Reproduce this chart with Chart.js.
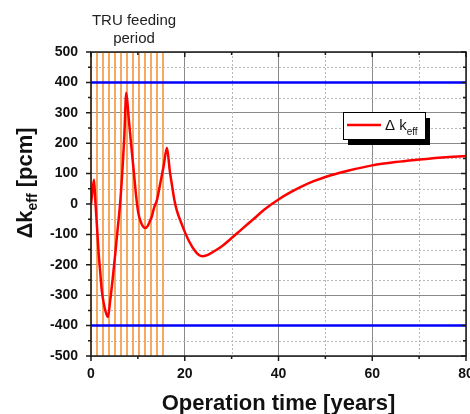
<!DOCTYPE html>
<html>
<head>
<meta charset="utf-8">
<script src="https://cdn.jsdelivr.net/npm/chart.js@4/dist/chart.umd.min.js"></script>
<style>
  body { margin: 0; background: #fff; }
  canvas { display: block; }
</style>
</head>
<body>
<canvas id="chart" width="470" height="414"></canvas>
<script>
// reactivity swing over time
const years = [0, 0.3, 0.64, 0.92, 1.3, 1.63, 2.0, 2.3, 2.7, 3.05, 3.6, 4.1, 4.6, 5.2, 5.7, 6.2, 6.7, 7.1, 7.53,
  8.0, 8.6, 9.2, 9.6, 10.1, 10.6, 11.1, 11.6, 12.1, 12.6, 13.0, 13.4, 14.1, 14.8, 15.5, 16.2,
  16.8, 17.4, 17.8, 18.3, 19.2, 20.1, 21.0, 22.2, 23.0, 23.8, 24.8, 26, 28, 30, 32, 35, 37, 40,
  42.5, 45, 47.5, 50, 55, 60, 65, 70, 75, 80];
const deltaK = [0, 40, 80, 12, -80, -162, -230, -284, -325, -350, -372, -317, -250, -160, -80, 0, 110, 220, 366,
  290, 190, 95, 30, -30, -58, -74, -79, -72, -55, -40, -15, 15, 70, 125, 185,
  110, 50, 12, -21, -60, -95, -125, -155, -168, -172, -168, -158, -138, -112, -85, -45, -18, 15,
  38, 58, 75, 89, 110, 127, 138, 146, 153, 158];
const limits = [400, -400];
const feedingTimes = [0, 1.28, 2.56, 3.84, 5.12, 6.4, 7.68, 8.96, 10.24, 11.52, 12.8, 14.08, 15.36];
const xTicks = [0, 20, 40, 60, 80];
const yTicks = [-500, -400, -300, -200, -100, 0, 100, 200, 300, 400, 500];

const FONT = "'Liberation Sans', Arial, sans-serif";

const datasets = [{
  data: years.map((x, i) => ({ x: x, y: deltaK[i] })),
  borderColor: '#ff0000',
  borderWidth: 2.5,
  pointRadius: 0,
  cubicInterpolationMode: 'monotone'
}];
limits.forEach(v => datasets.push({
  data: [{ x: 0, y: v }, { x: 80, y: v }],
  borderColor: '#0000ff',
  borderWidth: 2.5,
  pointRadius: 0
}));
feedingTimes.forEach(t => datasets.push({
  data: [{ x: t, y: -500 }, { x: t, y: 500 }],
  borderColor: 'rgb(247,160,80)',
  borderWidth: 1.8,
  pointRadius: 0,
  clip: 3
}));

// dotted minor grid, frame with ticks, titles, legend, annotation
const decor = {
  id: 'decor',
  beforeDatasetsDraw(chart) {
    const { ctx, chartArea: a, scales: { x, y } } = chart;
    ctx.save();
    ctx.strokeStyle = '#b8b8b8';
    ctx.lineWidth = 1;
    ctx.setLineDash([2, 2]);
    for (let v = 10; v < 80; v += 20) {
      const px = Math.round(x.getPixelForValue(v)) + 0.5;
      ctx.beginPath(); ctx.moveTo(px, a.top); ctx.lineTo(px, a.bottom); ctx.stroke();
    }
    for (let v = -450; v < 500; v += 100) {
      const py = Math.round(y.getPixelForValue(v)) + 0.5;
      ctx.beginPath(); ctx.moveTo(a.left, py); ctx.lineTo(a.right, py); ctx.stroke();
    }
    ctx.restore();
  },
  afterDatasetsDraw(chart) {
    const { ctx, chartArea: a, scales: { x, y } } = chart;
    ctx.save();
    // frame
    ctx.strokeStyle = '#1a1a1a';
    ctx.lineWidth = 1.5;
    ctx.strokeRect(a.left, a.top, a.right - a.left, a.bottom - a.top);
    ctx.beginPath();
    for (let v = 0; v <= 80; v += 10) {
      const px = x.getPixelForValue(v);
      const len = v % 20 === 0 ? 5 : 3;
      ctx.moveTo(px, a.bottom); ctx.lineTo(px, a.bottom + len);
      ctx.moveTo(px, a.top); ctx.lineTo(px, a.top + len);
    }
    for (let v = -500; v <= 500; v += 50) {
      const py = y.getPixelForValue(v);
      const len = v % 100 === 0 ? 5 : 3;
      ctx.moveTo(a.left, py); ctx.lineTo(a.left - len, py);
      ctx.moveTo(a.right, py); ctx.lineTo(a.right - len, py);
    }
    ctx.stroke();

    // x title
    ctx.fillStyle = '#111';
    ctx.font = 'bold 22px ' + FONT;
    ctx.textAlign = 'center';
    ctx.textBaseline = 'alphabetic';
    ctx.fillText('Operation time [years]', (a.left + a.right) / 2, 410);

    // y title with subscript
    ctx.save();
    ctx.translate(32, 183);
    ctx.rotate(-Math.PI / 2);
    const big = 'bold 22px ' + FONT, small = 'bold 14px ' + FONT;
    ctx.font = big; const w1 = ctx.measureText('\u0394k').width;
    ctx.font = small; const w2 = ctx.measureText('eff').width;
    ctx.font = big; const w3 = ctx.measureText(' [pcm]').width;
    let sx = -(w1 + w2 + w3) / 2;
    ctx.textAlign = 'left';
    ctx.font = big; ctx.fillText('\u0394k', sx, 0); sx += w1;
    ctx.font = small; ctx.fillText('eff', sx, 5); sx += w2;
    ctx.font = big; ctx.fillText(' [pcm]', sx, 0);
    ctx.restore();

    // annotation
    ctx.font = '15px ' + FONT;
    ctx.fillStyle = '#222';
    ctx.textAlign = 'center';
    ctx.fillText('TRU feeding', 134, 25);
    ctx.fillText('period', 134, 43);

    // legend box with shadow
    ctx.fillStyle = '#000';
    ctx.fillRect(348, 118, 82, 27);
    ctx.fillStyle = '#fff';
    ctx.fillRect(343.5, 112.5, 82, 27);
    ctx.strokeStyle = '#000';
    ctx.lineWidth = 1;
    ctx.strokeRect(343.5, 112.5, 82, 27);
    ctx.strokeStyle = '#ff0000';
    ctx.lineWidth = 2.5;
    ctx.beginPath(); ctx.moveTo(347, 125); ctx.lineTo(381, 125); ctx.stroke();
    ctx.fillStyle = '#111';
    ctx.textAlign = 'left';
    ctx.font = '15px ' + FONT;
    ctx.fillText('\u0394 k', 385, 130);
    const kw = ctx.measureText('\u0394 k').width;
    ctx.font = '10px ' + FONT;
    ctx.fillText('eff', 385 + kw, 135);
    ctx.restore();
  }
};

new Chart(document.getElementById('chart'), {
  type: 'line',
  data: { datasets: datasets },
  options: {
    responsive: false,
    animation: false,
    devicePixelRatio: 1,
    layout: { padding: { top: 52, right: 4, left: 0, bottom: 0 } },
    plugins: { legend: { display: false }, tooltip: { enabled: false } },
    scales: {
      x: {
        type: 'linear',
        min: 0, max: 80,
        afterFit(s) { s.height = 58; s.paddingLeft = 0; s.paddingRight = 0; },
        afterBuildTicks(s) { s.ticks = xTicks.map(v => ({ value: v })); },
        ticks: {
          autoSkip: false, maxRotation: 0, padding: 10,
          color: '#111', font: { family: FONT, size: 14, weight: 'bold' }
        },
        grid: { drawTicks: false, color: '#8a8a8a', lineWidth: 1 },
        border: { display: false }
      },
      y: {
        min: -500, max: 500,
        afterFit(s) { s.width = 91; s.paddingTop = 0; s.paddingBottom = 0; },
        afterBuildTicks(s) { s.ticks = yTicks.map(v => ({ value: v })); },
        ticks: {
          autoSkip: false, padding: 13,
          color: '#111', font: { family: FONT, size: 14, weight: 'bold' }
        },
        grid: { drawTicks: false, color: '#8a8a8a', lineWidth: 1 },
        border: { display: false }
      }
    }
  },
  plugins: [decor]
});
</script>
</body>
</html>
